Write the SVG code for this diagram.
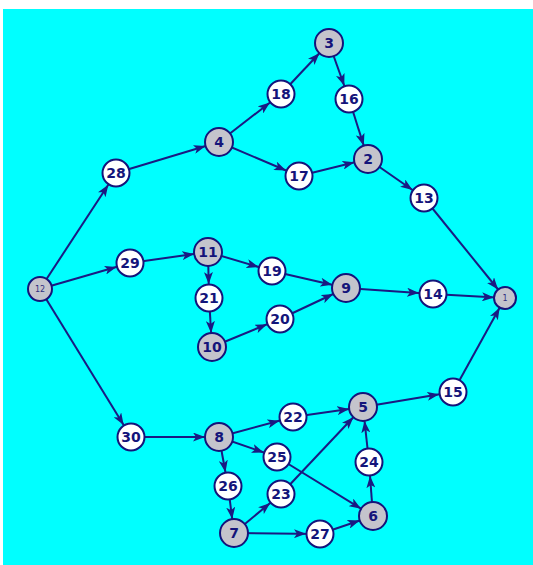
<svg xmlns="http://www.w3.org/2000/svg" width="533" height="565" viewBox="0 0 533 565">
<style>
.e{stroke:#1a1a82;stroke-width:2;fill:none;marker-end:url(#a)}
.e1{stroke:#1a1a82;stroke-width:2;fill:none;marker-end:url(#b)}
.w{fill:#ffffff;stroke:#14147a;stroke-width:2}
.g{fill:#c4c4cc;stroke:#14147a;stroke-width:2}
.t{font-family:"DejaVu Sans",sans-serif;font-weight:bold;font-size:14px;fill:#14147a;text-anchor:middle;dominant-baseline:central}
.s{font-family:"DejaVu Sans",sans-serif;font-size:8px;fill:#303080;text-anchor:middle;dominant-baseline:central}
</style>
<defs>
<marker id="a" viewBox="0 0 12 9" markerWidth="12" markerHeight="9" refX="26" refY="4.5" orient="auto" markerUnits="userSpaceOnUse"><path d="M0,0 L12,4.5 L0,9 L3,4.5 z" fill="#1a1a82"/></marker>
<marker id="b" viewBox="0 0 12 9" markerWidth="12" markerHeight="9" refX="23" refY="4.5" orient="auto" markerUnits="userSpaceOnUse"><path d="M0,0 L12,4.5 L0,9 L3,4.5 z" fill="#1a1a82"/></marker>
</defs>
<rect x="0" y="0" width="533" height="565" fill="#ffffff"/>
<rect x="3" y="9" width="530" height="556" fill="#00ffff"/>
<g id="connectors">
<line class="e" x1="40" y1="289" x2="116" y2="173"/>
<line class="e" x1="116" y1="173" x2="219" y2="142"/>
<line class="e" x1="219" y1="142" x2="281" y2="94"/>
<line class="e" x1="281" y1="94" x2="329" y2="43"/>
<line class="e" x1="329" y1="43" x2="349" y2="99"/>
<line class="e" x1="349" y1="99" x2="368" y2="159"/>
<line class="e" x1="219" y1="142" x2="299" y2="176"/>
<line class="e" x1="299" y1="176" x2="368" y2="159"/>
<line class="e" x1="368" y1="159" x2="424" y2="198"/>
<line class="e1" x1="424" y1="198" x2="505" y2="298"/>
<line class="e" x1="40" y1="289" x2="130" y2="263"/>
<line class="e" x1="130" y1="263" x2="208" y2="252"/>
<line class="e" x1="208" y1="252" x2="272" y2="271"/>
<line class="e" x1="272" y1="271" x2="346" y2="288"/>
<line class="e" x1="208" y1="252" x2="209" y2="298"/>
<line class="e" x1="209" y1="298" x2="212" y2="347"/>
<line class="e" x1="212" y1="347" x2="280" y2="319"/>
<line class="e" x1="280" y1="319" x2="346" y2="288"/>
<line class="e" x1="346" y1="288" x2="433" y2="294"/>
<line class="e1" x1="433" y1="294" x2="505" y2="298"/>
<line class="e" x1="40" y1="289" x2="131" y2="437"/>
<line class="e" x1="131" y1="437" x2="219" y2="437"/>
<line class="e" x1="219" y1="437" x2="293" y2="417"/>
<line class="e" x1="293" y1="417" x2="363" y2="407"/>
<line class="e" x1="219" y1="437" x2="277" y2="457"/>
<line class="e" x1="277" y1="457" x2="373" y2="516"/>
<line class="e" x1="219" y1="437" x2="228" y2="486"/>
<line class="e" x1="228" y1="486" x2="234" y2="533"/>
<line class="e" x1="234" y1="533" x2="281" y2="494"/>
<line class="e" x1="281" y1="494" x2="363" y2="407"/>
<line class="e" x1="234" y1="533" x2="320" y2="534"/>
<line class="e" x1="320" y1="534" x2="373" y2="516"/>
<line class="e" x1="373" y1="516" x2="369" y2="462"/>
<line class="e" x1="369" y1="462" x2="363" y2="407"/>
<line class="e" x1="363" y1="407" x2="453" y2="392"/>
<line class="e1" x1="453" y1="392" x2="505" y2="298"/>
</g>
<g id="n12"><circle class="g" cx="40" cy="289" r="12"/><text class="s" x="40" y="289">12</text></g>
<g id="n1"><circle class="g" cx="505" cy="298" r="11"/><text class="s" x="505" y="298">1</text></g>
<g id="n28"><circle class="w" cx="116" cy="173" r="13.5"/><text class="t" x="116" y="173">28</text></g>
<g id="n4"><circle class="g" cx="219" cy="142" r="14"/><text class="t" x="219" y="142">4</text></g>
<g id="n18"><circle class="w" cx="281" cy="94" r="13.5"/><text class="t" x="281" y="94">18</text></g>
<g id="n3"><circle class="g" cx="329" cy="43" r="14"/><text class="t" x="329" y="43">3</text></g>
<g id="n16"><circle class="w" cx="349" cy="99" r="13.5"/><text class="t" x="349" y="99">16</text></g>
<g id="n2"><circle class="g" cx="368" cy="159" r="14"/><text class="t" x="368" y="159">2</text></g>
<g id="n17"><circle class="w" cx="299" cy="176" r="13.5"/><text class="t" x="299" y="176">17</text></g>
<g id="n13"><circle class="w" cx="424" cy="198" r="13.5"/><text class="t" x="424" y="198">13</text></g>
<g id="n29"><circle class="w" cx="130" cy="263" r="13.5"/><text class="t" x="130" y="263">29</text></g>
<g id="n11"><circle class="g" cx="208" cy="252" r="14"/><text class="t" x="208" y="252">11</text></g>
<g id="n19"><circle class="w" cx="272" cy="271" r="13.5"/><text class="t" x="272" y="271">19</text></g>
<g id="n21"><circle class="w" cx="209" cy="298" r="13.5"/><text class="t" x="209" y="298">21</text></g>
<g id="n9"><circle class="g" cx="346" cy="288" r="14"/><text class="t" x="346" y="288">9</text></g>
<g id="n20"><circle class="w" cx="280" cy="319" r="13.5"/><text class="t" x="280" y="319">20</text></g>
<g id="n10"><circle class="g" cx="212" cy="347" r="14"/><text class="t" x="212" y="347">10</text></g>
<g id="n14"><circle class="w" cx="433" cy="294" r="13.5"/><text class="t" x="433" y="294">14</text></g>
<g id="n30"><circle class="w" cx="131" cy="437" r="13.5"/><text class="t" x="131" y="437">30</text></g>
<g id="n8"><circle class="g" cx="219" cy="437" r="14"/><text class="t" x="219" y="437">8</text></g>
<g id="n22"><circle class="w" cx="293" cy="417" r="13.5"/><text class="t" x="293" y="417">22</text></g>
<g id="n5"><circle class="g" cx="363" cy="407" r="14"/><text class="t" x="363" y="407">5</text></g>
<g id="n15"><circle class="w" cx="453" cy="392" r="13.5"/><text class="t" x="453" y="392">15</text></g>
<g id="n25"><circle class="w" cx="277" cy="457" r="13.5"/><text class="t" x="277" y="457">25</text></g>
<g id="n24"><circle class="w" cx="369" cy="462" r="13.5"/><text class="t" x="369" y="462">24</text></g>
<g id="n26"><circle class="w" cx="228" cy="486" r="13.5"/><text class="t" x="228" y="486">26</text></g>
<g id="n23"><circle class="w" cx="281" cy="494" r="13.5"/><text class="t" x="281" y="494">23</text></g>
<g id="n6"><circle class="g" cx="373" cy="516" r="14"/><text class="t" x="373" y="516">6</text></g>
<g id="n7"><circle class="g" cx="234" cy="533" r="14"/><text class="t" x="234" y="533">7</text></g>
<g id="n27"><circle class="w" cx="320" cy="534" r="13.5"/><text class="t" x="320" y="534">27</text></g>
</svg>
